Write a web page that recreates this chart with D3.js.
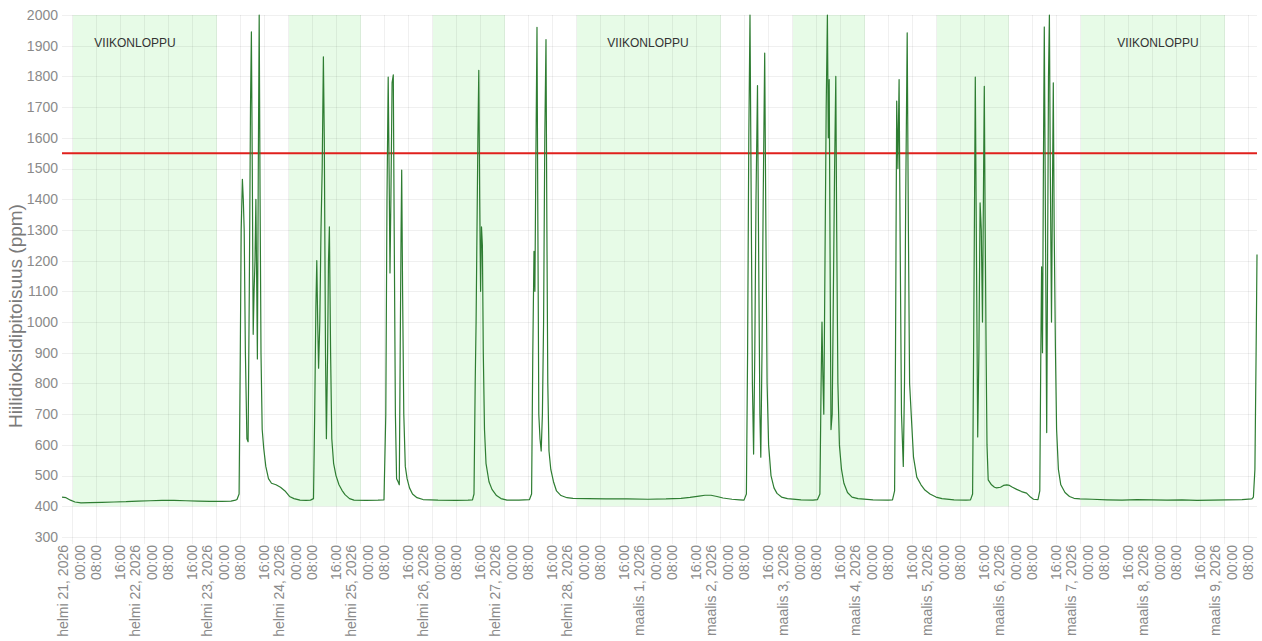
<!DOCTYPE html>
<html><head><meta charset="utf-8">
<script src="https://cdn.jsdelivr.net/npm/d3@7"></script>
<style>
body{margin:0;background:#fff;}
svg{display:block;font-family:Arial,"Liberation Sans",sans-serif;}
</style>
</head><body><svg id="chart" width="1262" height="641"></svg>
<script>
// ---- DATA ----
// hours since 2026-02-21 00:00 and CO2 concentration (ppm)
const hoursFromFeb21 = [
 -3.33,-2,-0.5,1,3,6,10,14,18,22,26,30,34,38,42,46,50,53,54.5,
 55.0,55.7,56.1,56.4,56.8,57.1,57.4,57.8,58.3,58.7,59.1,59.5,59.8,60.1,60.4,60.7,61.0,61.3,61.6,61.8,62.1,62.4,62.7,63.0,63.4,63.9,64.6,65.5,66.5,68,69.5,71,72.5,74,76,78,
 79.5,80.5,80.9,81.3,81.6,81.9,82.2,82.6,83.0,83.4,83.8,84.1,84.5,84.8,85.2,85.5,85.8,86.2,86.6,87.2,88,89,90,91,92.5,94,98,102,
 104,104.6,105.0,105.4,105.7,106.0,106.3,106.7,107.1,107.4,107.8,108.2,108.7,109.1,109.4,109.7,109.9,110.2,110.6,111.1,111.7,112.5,113.5,115,117,122,128,132,
 133.5,134,134.4,134.7,135.0,135.3,135.6,135.9,136.2,136.5,136.8,137.1,137.5,138,139,140,141.5,143,145,149,
 152.5,153.2,153.6,154.0,154.3,154.6,155.0,155.3,155.6,156.0,156.4,156.8,157.2,157.6,158.0,158.3,158.6,159.0,159.6,160.5,161.5,163,165,167,
 172,178,185,192,198,203,206,209,211,213,215,217,220,222.5,
 224,224.8,225.2,225.6,226.0,226.4,226.8,227.2,227.6,228.0,228.5,228.9,229.3,229.6,230.0,230.4,230.9,231.3,231.7,232.2,233,234,235,236.5,238.5,243,247,
 248.5,249.3,249.7,250.0,250.3,250.6,251.0,251.4,251.8,252.1,252.4,252.7,253.0,253.4,253.8,254.2,254.6,254.9,255.3,255.8,256.5,257.3,258.5,260,262,267,272,
 273.5,274.2,274.5,274.9,275.3,275.7,276.1,276.5,277.1,277.5,277.9,278.4,278.8,279.2,279.9,280.5,281.6,283,284.3,286,288,290,294,298,
 299.5,300.2,300.6,301.1,301.5,301.9,302.3,302.7,303.1,303.5,303.8,304.1,304.4,304.7,305.0,305.4,306.5,307.5,308.2,309.5,310.5,311.6,312.5,313.5,314.9,316.5,318.2,319.5,320.5,
 322,322.6,322.9,323.2,323.5,323.8,324.1,324.5,324.9,325.2,325.5,325.8,326.1,326.5,326.8,327.1,327.4,327.8,328.2,328.8,329.6,331,332.5,334,336,
 340,345,350,355,360,365,370,375,380,385,390,393.3,
 393.8,394.3,394.7,395.0
];
const co2Ppm = [
 430,428,420,414,411,412,413,414,415,417,418,419,419,418,417,416,416,417,420,
 422,440,900,1300,1465,1400,1300,900,620,610,1100,1700,1945,1500,960,1100,1200,1400,1100,880,1500,2000,1400,900,650,590,530,490,475,470,462,450,432,425,420,419,
 420,425,700,1050,1200,1000,850,1000,1300,1500,1864,1600,900,620,900,1200,1310,900,620,540,500,470,452,438,425,420,419,420,
 421,700,1400,1798,1500,1160,1400,1780,1805,1300,700,490,480,470,900,1300,1495,1100,700,530,490,460,440,428,422,420,419,420,
 421,440,800,1000,1300,1600,1820,1400,1100,1310,1250,900,650,540,480,455,435,425,420,420,
 422,440,900,1230,1100,1500,1960,1300,700,620,580,700,1000,1600,1920,1300,800,580,520,480,450,435,428,426,
 425,424,424,423,424,426,429,433,436,436,432,427,423,421,
 420,440,900,1600,2000,1400,800,570,900,1400,1770,1200,700,560,900,1400,1876,1300,800,600,500,460,442,430,425,421,420,
 422,440,800,1000,820,700,1200,1700,2000,1600,1790,1200,650,700,1100,1500,1800,1300,800,600,520,475,445,430,425,421,420,
 421,450,900,1720,1500,1790,1200,700,530,800,1400,1942,1300,800,670,560,495,470,453,440,430,425,421,420,
 421,440,1000,1798,1200,626,900,1388,1300,1000,1400,1768,1300,909,600,486,470,462,460,462,468,470,468,462,455,448,443,430,423,
 422,450,850,1180,900,1500,1961,1300,640,1200,1800,2000,1500,1000,1400,1779,1300,920,650,520,470,445,432,426,424,
 423,421,420,422,421,420,421,419,420,421,422,424,
 430,520,900,1220
];
const yTickValues = [300,400,500,600,700,800,900,1000,1100,1200,1300,1400,1500,1600,1700,1800,1900,2000];
const fiMonths = ["tammi","helmi","maalis","huhti"];
const timeTickLabels = ["00:00","08:00","16:00"];
const bandStarts = ["2026-02-21","2026-02-24","2026-02-26","2026-02-28","2026-03-03","2026-03-05","2026-03-07"];
const bandEnds   = ["2026-02-23","2026-02-25","2026-02-27","2026-03-02","2026-03-04","2026-03-06","2026-03-09"];
const weekendLabelText = "VIIKONLOPPU";
const weekendLabelHours = [21, 192, 362];
const thresholdPpm = 1550;
const yTitle = "Hiilidioksidipitoisuus (ppm)";

// ---- DRAW ----
const t0 = Date.UTC(2026, 1, 21);
const toDate = h => new Date(t0 + h * 3600e3);
const data = hoursFromFeb21.map((h, i) => ({t: toDate(h), v: co2Ppm[i]}));

const svg = d3.select("#chart");
const L = 62, R = 1257, T = 15, B = 537;

const x = d3.scaleUtc().domain(d3.extent(data, d => d.t)).range([L, R]);
const y = d3.scaleLinear().domain([300, 2000]).range([B, T]);

// shaded bands
svg.append("g").selectAll("rect").data(bandStarts.map((s, i) => [new Date(s + "T00:00Z"), new Date(bandEnds[i] + "T00:00Z")]))
  .join("rect")
  .attr("x", d => x(d[0]) + 1).attr("width", d => x(d[1]) - x(d[0]))
  .attr("y", y(2000)).attr("height", y(400) - y(2000))
  .attr("fill", "rgb(231,251,231)");

// grid
const tickTimes = d3.utcHour.every(8).range(x.domain()[0], x.domain()[1]);
const grid = svg.append("g").attr("stroke", "rgba(0,0,0,0.06)").attr("stroke-width", 1);
grid.selectAll("line.v").data(tickTimes).join("line")
  .attr("x1", d => Math.round(x(d)) + 0.5).attr("x2", d => Math.round(x(d)) + 0.5)
  .attr("y1", T).attr("y2", B + 7);
grid.selectAll("line.h").data(yTickValues).join("line")
  .attr("x1", L).attr("x2", R)
  .attr("y1", d => Math.round(y(d)) + 0.5).attr("y2", d => Math.round(y(d)) + 0.5);

// y ticks
svg.append("g").selectAll("text").data(yTickValues).join("text")
  .attr("x", 58).attr("y", d => y(d)).attr("dy", "0.35em")
  .attr("text-anchor", "end").attr("font-size", 14).attr("fill", "#8a8a8a")
  .text(d => d);

// y title
svg.append("text")
  .attr("transform", `translate(15,${(T + B) / 2 + 40}) rotate(-90)`)
  .attr("text-anchor", "middle").attr("dominant-baseline", "central")
  .attr("font-size", 19).attr("fill", "#7a7a7a")
  .text(yTitle);

// x ticks
const xt = svg.append("g").attr("font-size", 14).attr("fill", "#8a8a8a");
tickTimes.forEach(d => {
  const px = x(d);
  const hr = d.getUTCHours();
  const lines = hr === 0
    ? [`${fiMonths[d.getUTCMonth()]} ${d.getUTCDate()}, ${d.getUTCFullYear()}`, timeTickLabels[0]]
    : [timeTickLabels[hr / 8]];
  const n = lines.length;
  lines.forEach((s, i) => {
    const off = (i - (n - 1) / 2) * 17;
    xt.append("text")
      .attr("transform", `translate(${px + off},545) rotate(-90)`)
      .attr("text-anchor", "end").attr("dominant-baseline", "central")
      .text(s);
  });
});

// threshold line
svg.append("line")
  .attr("x1", L).attr("x2", R).attr("y1", y(thresholdPpm)).attr("y2", y(thresholdPpm))
  .attr("stroke", "#e0201c").attr("stroke-width", 2);

// data line
svg.append("path").datum(data)
  .attr("fill", "none").attr("stroke", "#2e7d32").attr("stroke-width", 1.2)
  .attr("stroke-linejoin", "round")
  .attr("d", d3.line().x(d => x(d.t)).y(d => y(d.v)));

// weekend labels
svg.append("g").selectAll("text").data(weekendLabelHours).join("text")
  .attr("x", h => x(toDate(h))).attr("y", 43).attr("dy", "0.35em")
  .attr("text-anchor", "middle").attr("font-size", 12).attr("fill", "#333")
  .text(weekendLabelText);
</script>
</body></html>
